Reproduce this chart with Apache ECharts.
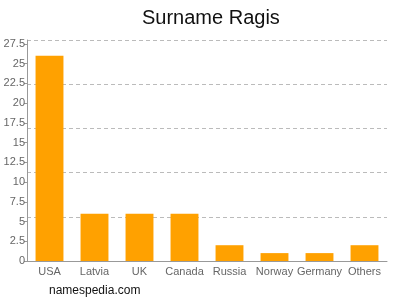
<!DOCTYPE html>
<html><head><meta charset="utf-8">
<script src="https://cdn.jsdelivr.net/npm/echarts@6/dist/echarts.min.js"></script>
<style>html,body{margin:0;padding:0;background:#fff}#c{width:400px;height:300px}</style>
</head><body><div id="c"></div>
<script>
const categories = ["USA","Latvia","UK","Canada","Russia","Norway","Germany","Others"];
const values = [26,6,6,6,2,1,1,2];
const yMax = 28;
const yInterval = 2.5;
const font = "'Liberation Sans', Arial, sans-serif";
const chart = echarts.init(document.getElementById('c'), null, {renderer:'canvas'});
chart.setOption({
  animation:false,
  title:{text:"Surname Ragis", left:137, top:3, textStyle:{fontFamily:font,fontSize:20,fontWeight:'normal',color:'#111'}},
  graphic:[{type:'text', left:49, top:285, style:{text:'namespedia.com', font:"12px "+font, fill:'#111'}}],
  grid:{left:27, right:13, top:40, bottom:39},
  xAxis:{type:'category', data:categories,
    axisLine:{lineStyle:{color:'#999'}}, axisTick:{show:false},
    axisLabel:{color:'#666', fontFamily:font, fontSize:11, margin:5, interval:0}},
  yAxis:[
    {type:'value', min:0, max:yMax, interval:yInterval,
     axisLine:{show:true, lineStyle:{color:'#999'}},
     axisTick:{show:true, length:3, lineStyle:{color:'#999'}},
     axisLabel:{color:'#666', fontFamily:font, fontSize:11, margin:2, showMaxLabel:false},
     splitLine:{show:false}},
    {type:'value', min:0, max:5, interval:1, position:'left',
     axisLine:{show:false}, axisTick:{show:false}, axisLabel:{show:false},
     splitLine:{show:true, lineStyle:{color:'#bbb', type:[4,3]}}}
  ],
  series:[{type:'bar', data:values, barWidth:'62%', itemStyle:{color:'#FFA100'}, yAxisIndex:0}]
});
</script></body></html>
